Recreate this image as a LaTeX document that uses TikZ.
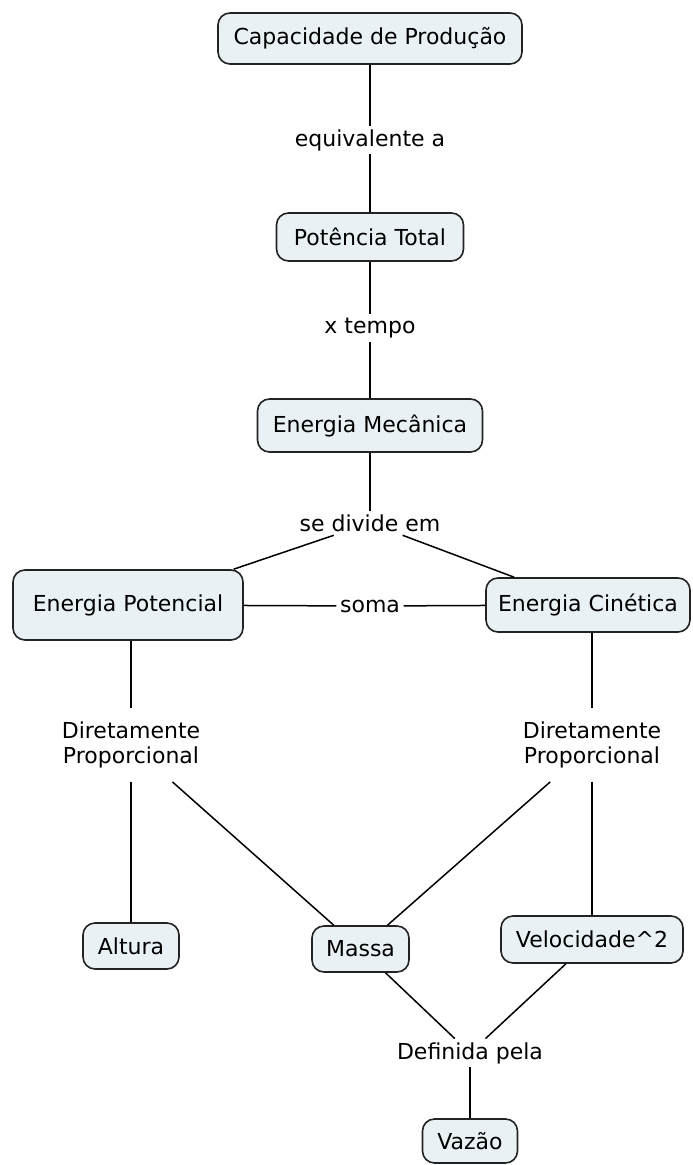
\documentclass[tikz,border=0pt]{standalone}
\usepackage{fontspec}
\setmainfont{DejaVu Sans}
\definecolor{conceptfill}{RGB}{234,241,245}
\definecolor{conceptline}{RGB}{35,35,35}
\begin{document}
\begin{tikzpicture}[x=1pt,y=-1pt,
    concept/.style={draw=conceptline,fill=conceptfill,line width=1.6pt,
        rounded corners=12pt,inner sep=0pt},
    linkword/.style={inner xsep=3pt,inner ysep=3pt,align=center},
    twoline/.style={linkword,inner ysep=13pt}]
\useasboundingbox (0,0) rectangle (693,1165);
    \begin{scope}[font=\fontsize{22}{25}\selectfont,line width=1.5pt]
% concepts
\node[concept,minimum width=304pt,minimum height=51pt] (cp) at (370,38.5) {Capacidade de Produção};
\node[concept,minimum width=187pt,minimum height=48pt] (pt) at (370,237) {Potência Total};
\node[concept,minimum width=225pt,minimum height=53pt] (em) at (370,425.5) {Energia Mecânica};
\node[concept,minimum width=230pt,minimum height=70pt] (ep) at (128,605) {Energia Potencial};
\node[concept,minimum width=204pt,minimum height=54pt] (ec) at (588,605) {Energia Cinética};
\node[concept,minimum width=96pt,minimum height=46pt] (alt) at (131,946) {Altura};
\node[concept,minimum width=97pt,minimum height=46pt] (massa) at (360.5,949) {Massa};
\node[concept,minimum width=182pt,minimum height=47pt] (vel) at (592,939.5) {Velocidade\^{}2};
\node[concept,minimum width=95pt,minimum height=44pt] (vaz) at (470,1141) {Vazão};

% linking words
\node[linkword] (eq) at (370,140) {equivalente a};
\node[linkword] (xt) at (370,328) {x tempo};
\node[linkword] (sd) at (370,523) {se divide em};
\node[linkword] (soma) at (370,606) {soma};
\node[twoline] (dpl) at (131,745) {Diretamente\\Proporcional};
\node[twoline] (dpr) at (592,745) {Diretamente\\Proporcional};
\node[linkword] (def) at (470,1053) {Definida pela};

% connectors
\draw (cp) -- (eq) -- (pt);
\draw (pt) -- (xt) -- (em);
\draw (em) -- (sd);
\draw (sd) -- (ep);
\draw (sd) -- (ec);
\draw (ep) -- (soma) -- (ec);
\draw (ep.south -| dpl) -- (dpl) -- (alt);
\draw (dpl) -- (massa);
\draw (ec.south -| dpr) -- (dpr) -- (vel);
\draw (dpr) -- (massa);
\draw (massa) -- (def);
\draw (vel) -- (def);
\draw (def) -- (vaz);
\end{scope}
 \end{tikzpicture}
\end{document}
